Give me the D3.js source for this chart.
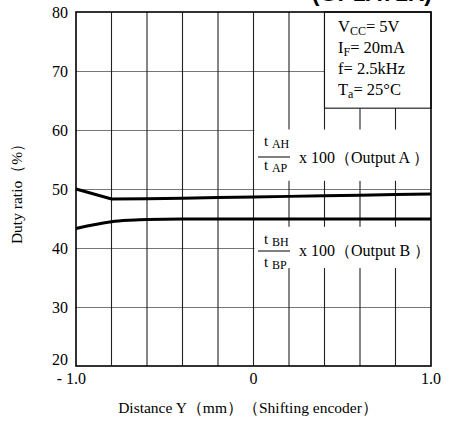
<!DOCTYPE html>
<html><head><meta charset="utf-8">
<script src="https://cdn.jsdelivr.net/npm/d3@7"></script>
<style>body{margin:0;background:#fff}svg{display:block}text{font-family:"Liberation Serif","Times New Roman",serif;fill:#000}</style>
</head><body>
<svg id="c" width="453" height="422"></svg>
<script>
const xGrid = [-1.0,-0.8,-0.6,-0.4,-0.2,0,0.2,0.4,0.6,0.8,1.0];
const xTickLabels = [{v:-1.0,t:"- 1.0"},{v:0,t:"0"},{v:1.0,t:"1.0"}];
const yTicks = [20,30,40,50,60,70,80];
const outAx = [-1.0,-0.8,-0.6,-0.4,-0.2,0,0.2,0.4,0.6,0.8,1.0];
const outAy = [50.0,48.3,48.35,48.45,48.55,48.65,48.75,48.85,48.95,49.05,49.15];
const outBx = [-1.0,-0.8,-0.7,-0.6,-0.4,-0.2,0,0.2,0.4,0.6,0.8,1.0];
const outBy = [43.3,44.45,44.7,44.85,44.9,44.9,44.9,44.9,44.9,44.9,44.9,44.9];
const condLines = [["V","CC","= 5V"],["I","F","= 20mA"],["f","","= 2.5kHz"],["T","a","= 25°C"]];

const L=76,R=431,T=12,B=366;
const x=d3.scaleLinear().domain([-1,1]).range([L,R]);
const y=d3.scaleLinear().domain([20,80]).range([B,T]);
const svg=d3.select("#c");

// title (clipped at top)
svg.append("text").attr("x",432).attr("y",0.5).attr("text-anchor","end")
  .style("font-family","'Liberation Sans',Arial,sans-serif").style("font-weight","bold").style("font-size","23px")
  .text("(GP1A71R)");

const g=svg.append("g");
g.selectAll(".hg").data(yTicks.filter(v=>v>20&&v<80)).enter().append("line")
  .attr("x1",L).attr("x2",R).attr("y1",d=>y(d)+0.5).attr("y2",d=>y(d)+0.5)
  .attr("stroke","#777").attr("stroke-width",1);
g.selectAll(".vg").data(xGrid.slice(1,-1)).enter().append("line")
  .attr("y1",T).attr("y2",B).attr("x1",d=>x(d)).attr("x2",d=>x(d))
  .attr("stroke","#222").attr("stroke-width",1.1);

const xb=x(0)+1;
svg.append("rect").attr("x",xb).attr("y",y(60)-0.5).attr("width",R-xb).attr("height",y(51.3)-y(60)).attr("fill","#fff");
svg.append("rect").attr("x",xb).attr("y",y(43.6)).attr("width",R-xb).attr("height",y(36.6)-y(43.6)).attr("fill","#fff");
svg.append("rect").attr("x",x(0.4)).attr("y",T).attr("width",R-x(0.4)).attr("height",y(63.7)-T)
  .attr("fill","#fff").attr("stroke","#111").attr("stroke-width",1.1);

svg.append("rect").attr("x",L).attr("y",T).attr("width",R-L).attr("height",B-T)
  .attr("fill","none").attr("stroke","#000").attr("stroke-width",1.6);

const lineA=d3.line().x(d=>x(d[0])).y(d=>y(d[1])).curve(d3.curveLinear);
const lineB=d3.line().x(d=>x(d[0])).y(d=>y(d[1])).curve(d3.curveMonotoneX);
svg.append("path").attr("d",lineA(outAx.map((v,i)=>[v,outAy[i]]))).attr("fill","none").attr("stroke","#000").attr("stroke-width",3);
svg.append("path").attr("d",lineB(outBx.map((v,i)=>[v,outBy[i]]))).attr("fill","none").attr("stroke","#000").attr("stroke-width",3);

svg.selectAll(".yl").data(yTicks).enter().append("text")
  .attr("x",68).attr("y",d=>d===20?y(d)-1:y(d)+5.5).attr("text-anchor","end").style("font-size","16px").text(d=>d);
svg.selectAll(".xl").data(xTickLabels).enter().append("text")
  .attr("x",d=>d.v===-1?86:x(d.v)).attr("y",384).attr("text-anchor",d=>d.v===-1?"end":"middle")
  .style("font-size","16px").text(d=>d.t);
svg.append("text").attr("x",248).attr("y",413).attr("text-anchor","middle").style("font-size","15.5px")
  .text("Distance Y（mm）（Shifting encoder）");
svg.append("text").attr("transform","translate(22,190) rotate(-90)").attr("text-anchor","middle").style("font-size","15.5px")
  .text("Duty ratio（%）");

condLines.forEach((c,i)=>{
  const t=svg.append("text").attr("x",338).attr("y",32+i*21).style("font-size","16.5px");
  t.append("tspan").text(c[0]);
  if(c[1]) t.append("tspan").attr("dy",3).style("font-size","12px").text(c[1]);
  t.append("tspan").attr("dy",c[1]?-3:0).text(c[2]);
});

function frac(x0,ny,ly,dy,ty,n,d,out){
  const a=svg.append("text").attr("x",x0+6).attr("y",ny).style("font-size","15px");
  a.append("tspan").text("t ");a.append("tspan").attr("dy",2).style("font-size","12px").text(n);
  const b=svg.append("text").attr("x",x0+6).attr("y",dy).style("font-size","15px");
  b.append("tspan").text("t ");b.append("tspan").attr("dy",2).style("font-size","12px").text(d);
  svg.append("line").attr("x1",x0).attr("x2",x0+32).attr("y1",ly).attr("y2",ly).attr("stroke","#000").attr("stroke-width",1);
  svg.append("text").attr("x",x0+41).attr("y",ty).style("font-size","16px").text("x  100（Output "+out+" ）");
}
frac(258,146,157,170,163,"AH","AP","A");
frac(258,244,251,267,256,"BH","BP","B");
</script>
</body></html>
